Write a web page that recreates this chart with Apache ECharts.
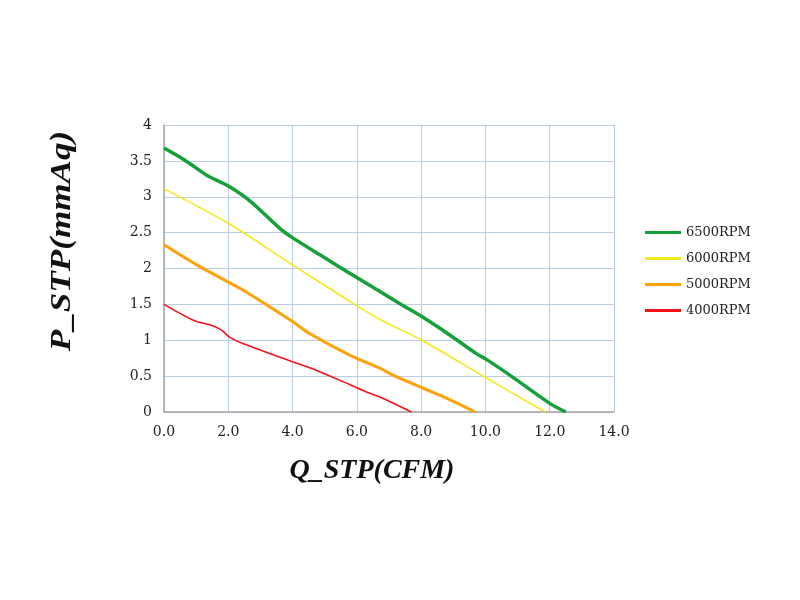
<!DOCTYPE html>
<html>
<head>
<meta charset="utf-8">
<script src="https://cdn.jsdelivr.net/npm/echarts@6/dist/echarts.min.js"></script>
<style>
  html, body { margin: 0; padding: 0; background: #fff; }
  #chart { width: 800px; height: 600px; }
</style>
</head>
<body>
<div id="chart"></div>
<script>
// fan curves, [Q_STP (CFM), P_STP (mmAq)]
const rpm6500 = [
  [0, 3.68], [0.65, 3.51], [1.33, 3.30], [2.0, 3.15], [2.68, 2.94], [3.6, 2.56],
  [4.03, 2.42], [5.0, 2.15], [5.79, 1.93], [6.5, 1.74], [7.34, 1.51], [8.02, 1.33],
  [8.9, 1.07], [9.73, 0.81], [10.04, 0.73], [10.77, 0.51], [12.0, 0.12], [12.5, 0]
];
const rpm6000 = [
  [0, 3.11], [2.0, 2.63], [4.0, 2.05], [5.79, 1.54], [6.72, 1.29], [8.02, 1.0],
  [10.04, 0.47], [11.86, 0]
];
const rpm5000 = [
  [0, 2.33], [1.02, 2.05], [2.0, 1.81], [2.57, 1.67], [4.0, 1.26], [4.54, 1.09],
  [5.79, 0.79], [6.72, 0.61], [7.14, 0.51], [8.02, 0.34], [8.8, 0.19], [9.68, 0]
];
const rpm4000 = [
  [0, 1.5], [0.91, 1.28], [1.53, 1.2], [1.79, 1.14], [2.05, 1.04], [2.47, 0.95],
  [4.0, 0.70], [4.75, 0.58], [5.79, 0.38], [6.41, 0.26], [6.72, 0.21], [7.7, 0]
];
const seriesNames = ["6500RPM", "6000RPM", "5000RPM", "4000RPM"];
const xTitle = "Q_STP(CFM)";
const yTitle = "P_STP(mmAq)";

const chart = echarts.init(document.getElementById("chart"));

const gridColor = "#b9cde5";
const tickFont = { color: "#222", fontFamily: "DejaVu Serif", fontSize: 14 };

function curve(name, data, color, width) {
  return {
    name: name,
    type: "line",
    data: data,
    smooth: 0.3,
    showSymbol: false,
    lineStyle: { color: color, width: width },
    itemStyle: { color: color }
  };
}

const option = {
  animation: false,
  backgroundColor: "#fff",
  grid: { left: 164, right: 186, top: 125, bottom: 188 },
  legend: {
    orient: "vertical",
    left: 640,
    top: 221,
    itemWidth: 36,
    itemHeight: 3,
    itemGap: 13,
    icon: "rect",
    textStyle: { fontFamily: "DejaVu Serif", fontSize: 13, color: "#222" },
    data: seriesNames
  },
  graphic: [
    {
      type: "text",
      x: 372,
      y: 471,
      style: {
        text: xTitle,
        font: "italic bold 28px 'Liberation Serif'",
        fill: "#111",
        align: "center",
        verticalAlign: "middle"
      }
    },
    {
      type: "text",
      x: 62,
      y: 241,
      rotation: Math.PI / 2,
      scaleX: 1.17,
      style: {
        text: yTitle,
        font: "italic bold 30px 'Liberation Serif'",
        fill: "#111",
        align: "center",
        verticalAlign: "middle"
      }
    }
  ],
  xAxis: {
    type: "value",
    min: 0,
    max: 14,
    interval: 2,
    axisLine: { lineStyle: { color: "#a6a6a6", width: 1.5 } },
    axisTick: { show: false },
    axisLabel: Object.assign({ margin: 13, formatter: v => v.toFixed(1) }, tickFont),
    splitLine: { lineStyle: { color: gridColor, width: 1 } }
  },
  yAxis: {
    type: "value",
    min: 0,
    max: 4,
    interval: 0.5,
    axisLine: { show: true, lineStyle: { color: "#a6a6a6", width: 1.5 } },
    axisTick: { show: false },
    axisLabel: Object.assign({ margin: 12 }, tickFont),
    splitLine: { lineStyle: { color: gridColor, width: 1 } }
  },
  series: [
    curve(seriesNames[0], rpm6500, "#16a03a", 3.5),
    curve(seriesNames[1], rpm6000, "#f3ea1c", 1.6),
    curve(seriesNames[2], rpm5000, "#ffa10a", 3),
    curve(seriesNames[3], rpm4000, "#f5121a", 1.6)
  ]
};

chart.setOption(option);
</script>
</body>
</html>
